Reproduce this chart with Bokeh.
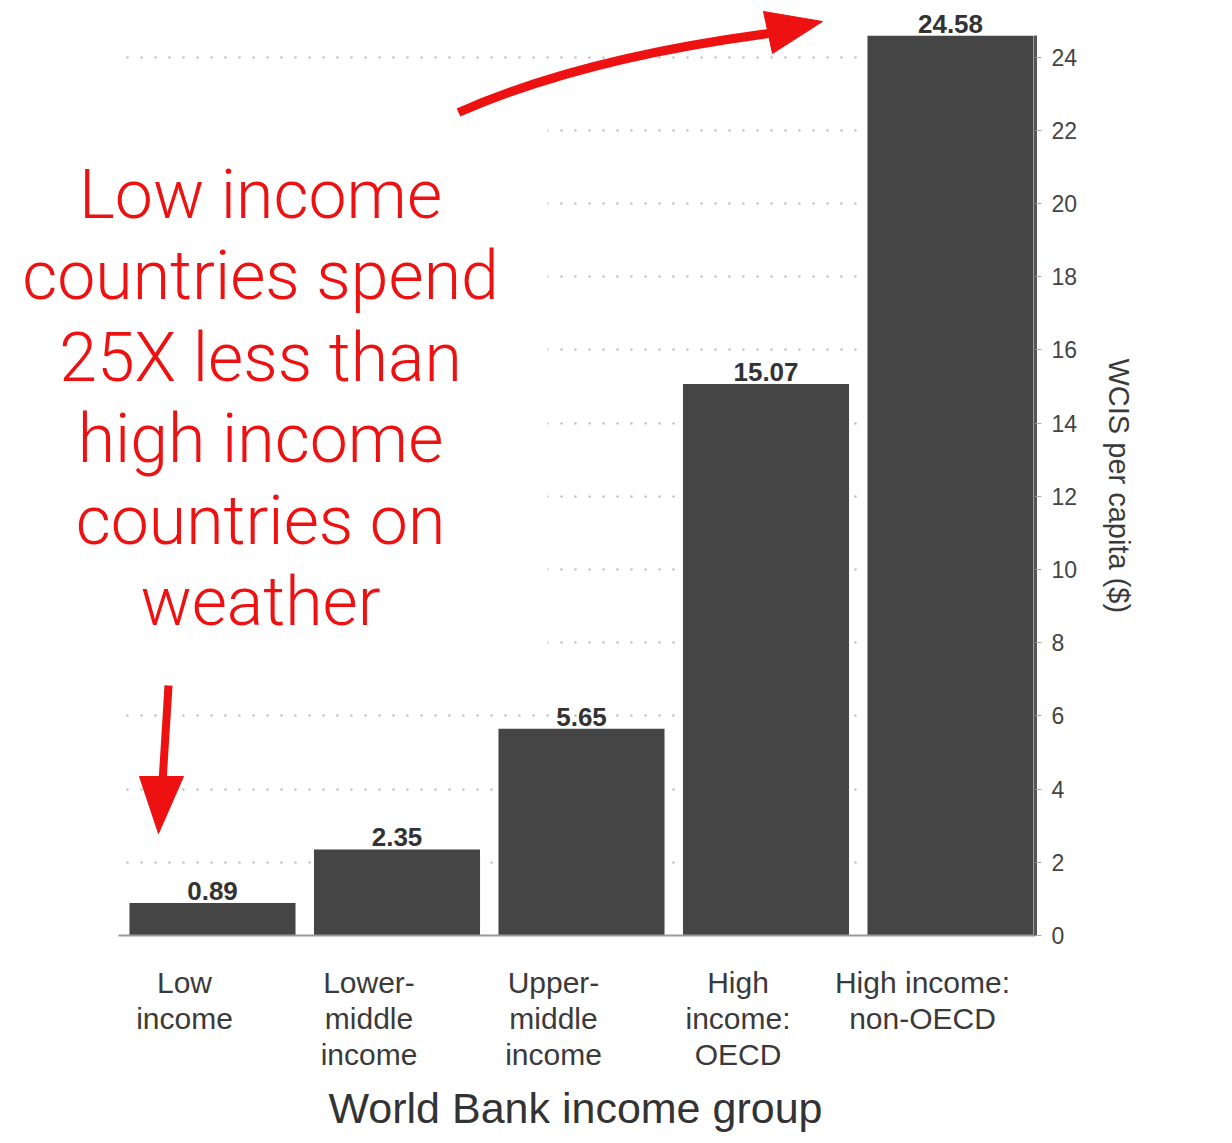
from bokeh.plotting import figure
from bokeh.models import Range1d, FixedTicker, Title
from bokeh.core.properties import value
from bokeh.embed import file_html
from bokeh.resources import INLINE

# ---- data ----
categories = ["Low income", "Lower-middle income", "Upper-middle income",
              "High income: OECD", "High income: non-OECD"]
tick_labels = ["Low\nincome", "Lower-\nmiddle\nincome", "Upper-\nmiddle\nincome",
               "High\nincome:\nOECD", "High income:\nnon-OECD"]
wcis_per_capita = [0.89, 2.35, 5.65, 15.07, 24.58]
y_ticks = [0, 2, 4, 6, 8, 10, 12, 14, 16, 18, 20, 22, 24]
annotation_lines = ["Low income", "countries spend", "25X less than",
                    "high income", "countries on", "weather"]

# ---- layout helpers (pixel layout -> data coords) ----
W, H = 1232, 1143
FRAME_W, FRAME_H = 1035, 935
STEP = 184.5     # px per category
X0 = 184.0       # px of category label 0
PXU = 36.6       # px per y unit


def xd(px):
    return (px - X0) / STEP


def yd(py):
    return (FRAME_H - py) / PXU


BAR_SHIFT = (212 - X0) / STEP
RED = "#ee1111"

p = figure(width=W, height=H,
           x_range=Range1d(xd(0), xd(FRAME_W)), y_range=Range1d(0, yd(0)),
           y_axis_location="right", output_backend="svg", toolbar_location=None,
           min_border_left=0, min_border_right=W - FRAME_W,
           min_border_top=0, min_border_bottom=H - FRAME_H,
           background_fill_color="white", border_fill_color="white",
           outline_line_color=None)

# white areas that hide the grid lines (behind the annotation / left margin)
p.quad(left=[xd(-20), xd(-20)], right=[xd(547), xd(116)],
       top=[yd(100), yd(-10)], bottom=[yd(682), yd(FRAME_H - 4)],
       fill_color="white", line_color=None)

xs = [i + BAR_SHIFT for i in range(len(categories))]
p.vbar(x=xs, top=wcis_per_capita, bottom=0, width=0.9,
       fill_color="#454545", line_color=None)

p.text(x=xs, y=wcis_per_capita, text=[f"{v:.2f}" for v in wcis_per_capita],
       text_align="center", text_baseline="bottom", y_offset=-3,
       text_font=value("Liberation Sans"), text_font_style="bold",
       text_font_size="26px", text_color="#333333")

# red annotation text
p.text(x=[xd(260)] * len(annotation_lines),
       y=[yd(194 + 81.5 * i) for i in range(len(annotation_lines))],
       text=annotation_lines, text_align="center", text_baseline="alphabetic",
       text_font=value("Roboto Light"), text_font_size="68px", text_color=RED)

# curved arrow to the top bar
p.quadratic(x0=[xd(458)], y0=[yd(112)], x1=[xd(768)], y1=[yd(33)],
            cx=[xd(580)], cy=[yd(58)], line_color=RED, line_width=9)
p.patch(x=[xd(763), xd(822), xd(772)], y=[yd(11), yd(21), yd(53)],
        fill_color=RED, line_color=RED, line_width=1)

# down arrow to the low-income bar
p.segment(x0=[xd(168)], y0=[yd(685)], x1=[xd(162)], y1=[yd(782)],
          line_color=RED, line_width=8)
p.patch(x=[xd(139), xd(183), xd(158)], y=[yd(776), yd(776), yd(833)],
        fill_color=RED, line_color=RED, line_width=1)

# ---- axes ----
xa = p.xaxis[0]
xa.ticker = FixedTicker(ticks=list(range(len(categories))), minor_ticks=[])
xa.major_label_overrides = {i: lab for i, lab in enumerate(tick_labels)}
xa.major_label_text_font = "Liberation Sans"
xa.major_label_text_font_size = "30px"
xa.major_label_text_color = "#3a3a3a"
xa.major_label_text_line_height = 1.1
xa.major_label_standoff = 24
xa.major_tick_line_color = None
xa.minor_tick_line_color = None
xa.axis_line_color = "#999999"
xa.axis_line_width = 2
xa.bounds = (xd(118), xd(FRAME_W))

p.add_layout(Title(text="World Bank income group", align="left", offset=328,
                   text_font="Liberation Sans", text_font_style="normal",
                   text_font_size="43px", text_color="#333333", standoff=14),
             "below")

ya = p.yaxis[0]
ya.ticker = FixedTicker(ticks=y_ticks, minor_ticks=[])
ya.major_label_text_font = "Liberation Sans"
ya.major_label_text_font_size = "23px"
ya.major_label_text_color = "#444444"
ya.major_label_standoff = 10
ya.major_tick_in = 0
ya.major_tick_out = 6
ya.major_tick_line_color = "#aaaaaa"
ya.minor_tick_line_color = None
ya.axis_line_color = "#555555"
ya.axis_line_width = 3
ya.bounds = (0, yd(35))

p.add_layout(Title(text="WCIS per capita ($)", align="left", offset=358,
                   text_font="Liberation Sans", text_font_style="normal",
                   text_font_size="29px", text_color="#3a3a3a", standoff=45),
             "right")

p.xgrid.visible = False
p.ygrid.ticker = FixedTicker(ticks=y_ticks, minor_ticks=[])
p.ygrid.grid_line_color = "#b5b5b5"
p.ygrid.grid_line_width = 2
p.ygrid.grid_line_dash = "2 12"

open("out.html", "w").write(file_html(p, INLINE))
